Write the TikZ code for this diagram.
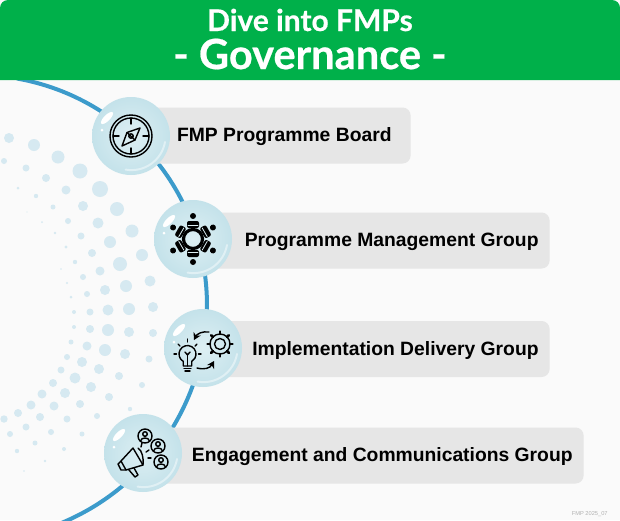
\documentclass[tikz,border=0pt]{standalone}
\usepackage{fontspec}
\setmainfont{Liberation Sans}
\newfontfamily\headfont[BoldFeatures={FakeBold=0.5}]{Lato}
\usetikzlibrary{arrows.meta}
\usetikzlibrary{shapes.geometric}
\definecolor{headgreen}{HTML}{00B04A}
\definecolor{pagegrey}{HTML}{FAFAFA}
\definecolor{bargrey}{HTML}{E6E6E6}
\definecolor{arcblue}{HTML}{3C9BCB}
\definecolor{dotblue}{HTML}{D6E9F1}
\definecolor{bubbleout}{HTML}{C4E2EA}
\definecolor{bubblein}{HTML}{DDEFF3}
\tikzset{
  halftone/.style={fill=dotblue,draw=none},
  barbox/.style={fill=bargrey,rounded corners=4pt,minimum height=28pt,anchor=east,align=flush right,font=\bfseries\fontsize{9.65}{11}\selectfont,text=black,execute at begin node=\rule{0pt}{8.5pt}},
  bubble/.style={circle,minimum size=39pt,inner sep=0pt,inner color=bubblein,outer color=bubbleout},
  gloss/.style={fill=white,draw=none},
  rim/.style={draw=white,draw opacity=.45,line width=1pt},
  iconline/.style={draw=black,line width=.7pt,fill=none},
  iconthick/.style={draw=black,line width=1.3pt},
  iconfill/.style={fill=black,draw=none}
}
\begin{document}
\begin{tikzpicture}[line cap=round,line join=round,x=0.5pt,y=-0.5pt]
\useasboundingbox (0,0) rectangle (620,520);
\clip (0,0) rectangle (620,520);
\fill [pagegrey] (0,0) rectangle (620,520);
% halftone
\draw [halftone] (9,138) circle (5);
\draw [halftone] (34,145) circle (6);
\draw [halftone] (58,157) circle (6.5);
\draw [halftone] (80,171) circle (7.5);
\draw [halftone] (100,189) circle (8);
\draw [halftone] (117,209) circle (7);
\draw [halftone] (132,231) circle (6.5);
\draw [halftone] (142,255) circle (6);
\draw [halftone] (4,161) circle (3);
\draw [halftone] (26,168) circle (3.5);
\draw [halftone] (46,178) circle (4);
\draw [halftone] (66,190) circle (4.5);
\draw [halftone] (83,206) circle (5);
\draw [halftone] (98,223) circle (5.5);
\draw [halftone] (110,242) circle (6);
\draw [halftone] (18,188) circle (1.5);
\draw [halftone] (36,196) circle (2.2);
\draw [halftone] (53,207) circle (2.5);
\draw [halftone] (68,221) circle (3);
\draw [halftone] (81,236) circle (3.5);
\draw [halftone] (92,253) circle (4);
\draw [halftone] (42,222) circle (1);
\draw [halftone] (55,233) circle (1.3);
\draw [halftone] (66,247) circle (1.7);
\draw [halftone] (27,212) circle (.7);
\draw [halftone] (120,264) circle (7);
\draw [halftone] (150,281) circle (5.5);
\draw [halftone] (126,286) circle (6);
\draw [halftone] (105,290) circle (5);
\draw [halftone] (100,271) circle (4.5);
\draw [halftone] (83,277) circle (3);
\draw [halftone] (75,262) circle (2.2);
\draw [halftone] (87,294) circle (3);
\draw [halftone] (67,283) circle (1.2);
\draw [halftone] (61,269) circle (.8);
\draw [halftone] (71,297) circle (1.5);
\draw [halftone] (153,307) circle (5);
\draw [halftone] (129,309) circle (6);
\draw [halftone] (108,310) circle (5.5);
\draw [halftone] (90,312) circle (3.5);
\draw [halftone] (74,312) circle (2);
\draw [halftone] (153,333) circle (4);
\draw [halftone] (129,332) circle (5);
\draw [halftone] (108,330) circle (6);
\draw [halftone] (90,329) circle (4);
\draw [halftone] (74,327) circle (2);
\draw [halftone] (149,359) circle (3.5);
\draw [halftone] (125,354) circle (5);
\draw [halftone] (105,350) circle (6);
\draw [halftone] (87,346) circle (4.5);
\draw [halftone] (71,342) circle (2.5);
\draw [halftone] (142,385) circle (3);
\draw [halftone] (119,376) circle (4);
\draw [halftone] (99,369) circle (5);
\draw [halftone] (82,362) circle (5);
\draw [halftone] (67,357) circle (3);
\draw [halftone] (130,409) circle (2.2);
\draw [halftone] (109,397) circle (4);
\draw [halftone] (91,387) circle (5);
\draw [halftone] (75,378) circle (5.5);
\draw [halftone] (61,370) circle (3.5);
\draw [halftone] (97,416) circle (3);
\draw [halftone] (80,404) circle (4);
\draw [halftone] (65,393) circle (5);
\draw [halftone] (53,383) circle (4);
\draw [halftone] (82,434) circle (2.5);
\draw [halftone] (67,419) circle (3.5);
\draw [halftone] (54,406) circle (4.5);
\draw [halftone] (42,394) circle (4.5);
\draw [halftone] (64,449) circle (2);
\draw [halftone] (51,432) circle (3);
\draw [halftone] (40,417) circle (4);
\draw [halftone] (31,405) circle (4.5);
\draw [halftone] (45,461) circle (1.3);
\draw [halftone] (35,443) circle (2.5);
\draw [halftone] (26,427) circle (3.5);
\draw [halftone] (18,413) circle (4);
\draw [halftone] (24,471) circle (.8);
\draw [halftone] (17,451) circle (2.2);
\draw [halftone] (10,434) circle (3);
\draw [halftone] (4,419) circle (3.7);
% arc
\coordinate (arcstart) at (16.9,78.5);
\draw [arcblue,line width=2pt,line cap=butt] (arcstart) arc (-80:0:230) arc (0:72:236);
% bars
\node [barbox,inner xsep=9.5pt,text width=111.5pt] (boardbar) at (411,135.5) {FMP Programme Board};
\node [barbox,inner xsep=5.5pt,text width=169pt] (managebar) at (550,240.5) {Programme Management Group};
\node [barbox,inner xsep=5.5pt,text width=169pt] (deliverybar) at (550,349) {Implementation Delivery Group};
\node [barbox,inner xsep=5.5pt,text width=211pt] (engagebar) at (584,455.5) {Engagement and Communications Group};
% bubbles
\node [bubble] (boardbubble) at (131,136) {};
\node [bubble] (managebubble) at (193,239) {};
\node [bubble] (deliverybubble) at (203,348) {};
\node [bubble] (engagebubble) at (143,453) {};
\begin{scope}[shift={(131,136)}]
\fill [gloss,shift={(-24,-18)},rotate=45] (0,0) ellipse (8 and 3);
\fill [gloss] (-29,-6) circle (1.5);
\draw [rim] (34,6) arc (10:100:34);
\draw [iconline] (0,0) circle (21);
\draw [iconline] (0,0) circle (18);
\draw [iconline] (0,-18) -- (0,-12);
\draw [iconline] (0,18) -- (0,12);
\draw [iconline] (-18,0) -- (-12,0);
\draw [iconline] (18,0) -- (12,0);
\draw [iconline] (9,-8) -- (-4,-3.5) -- (-9,10) -- (4,4) -- cycle;
\draw [iconline] (-4,-3.5) -- (4,4);
\draw [iconline] (0,0) circle (2.2);
\end{scope}
\begin{scope}[shift={(193,239)}]
\fill [gloss,shift={(-24,-18)},rotate=45] (0,0) ellipse (8 and 3);
\fill [gloss] (-29,-6) circle (1.5);
\draw [rim] (34,6) arc (10:100:34);
\draw [black,line width=1.6pt] (0,0) circle (9.5);
\fill [iconfill] (0,-23) circle (3);
\fill [iconfill,rounded corners=1pt] (-6,-18) rectangle (6,-11);
\fill [iconfill,rotate=60] (0,-23) circle (3);
\fill [iconfill,rotate=60,rounded corners=1pt] (-6,-18) rectangle (6,-11);
\fill [iconfill,rotate=120] (0,-23) circle (3);
\fill [iconfill,rotate=120,rounded corners=1pt] (-6,-18) rectangle (6,-11);
\fill [iconfill,rotate=180] (0,-23) circle (3);
\fill [iconfill,rotate=180,rounded corners=1pt] (-6,-18) rectangle (6,-11);
\fill [iconfill,rotate=240] (0,-23) circle (3);
\fill [iconfill,rotate=240,rounded corners=1pt] (-6,-18) rectangle (6,-11);
\fill [iconfill,rotate=300] (0,-23) circle (3);
\fill [iconfill,rotate=300,rounded corners=1pt] (-6,-18) rectangle (6,-11);
\draw [bubblein,line width=.4pt] (-5,-13.5) -- (5,-13.5);
\draw [bubblein,line width=.4pt,rotate=60] (-5,-13.5) -- (5,-13.5);
\draw [bubblein,line width=.4pt,rotate=120] (-5,-13.5) -- (5,-13.5);
\draw [bubblein,line width=.4pt,rotate=180] (-5,-13.5) -- (5,-13.5);
\draw [bubblein,line width=.4pt,rotate=240] (-5,-13.5) -- (5,-13.5);
\draw [bubblein,line width=.4pt,rotate=300] (-5,-13.5) -- (5,-13.5);
\end{scope}
\begin{scope}[shift={(203,348)}]
\fill [gloss,shift={(-24,-18)},rotate=45] (0,0) ellipse (8 and 3);
\fill [gloss] (-29,-6) circle (1.5);
\draw [rim] (34,6) arc (10:100:34);
% bulb
\draw [iconline] (-19.75,13.4) arc (120:420:8.5) -- (-11.25,18) -- (-19.75,18) -- cycle;
\draw [iconline] (-19,20.5) -- (-12,20.5);
\draw [iconline] (-18,23) -- (-13,23);
\draw [iconline] (-15.5,18) -- (-15.5,6);
\draw [iconline] (-18,4) -- (-15.5,7) -- (-13,4);
\draw [iconline] (-29,6) -- (-26.5,6);
\draw [iconline] (-25,-4) -- (-23,-2);
\draw [iconline] (-15.5,-9) -- (-15.5,-6);
\draw [iconline] (-6,-4) -- (-8,-2);
\draw [iconline] (-2,6) -- (-4.5,6);
% gear
\draw [iconline] (17,-4) circle (5.5);
\draw [iconline] (17,-4) circle (10);
\draw [iconthick] (17,-4) +(0:10) -- +(0:12.5);
\draw [iconthick] (17,-4) +(45:10) -- +(45:12.5);
\draw [iconthick] (17,-4) +(90:10) -- +(90:12.5);
\draw [iconthick] (17,-4) +(135:10) -- +(135:12.5);
\draw [iconthick] (17,-4) +(180:10) -- +(180:12.5);
\draw [iconthick] (17,-4) +(225:10) -- +(225:12.5);
\draw [iconthick] (17,-4) +(270:10) -- +(270:12.5);
\draw [iconthick] (17,-4) +(315:10) -- +(315:12.5);
% arrows
\draw [iconline,-{Stealth[length=3.5pt,width=4pt]}] (6,-16) .. controls (-1,-17) and (-6,-14) .. (-9,-8);
\draw [iconline,-{Stealth[length=3.5pt,width=4pt]}] (-6,20) .. controls (2,22) and (7,20) .. (11,13);
\end{scope}
\begin{scope}[shift={(143,453)}]
\fill [gloss,shift={(-24,-18)},rotate=45] (0,0) ellipse (8 and 3);
\fill [gloss] (-29,-6) circle (1.5);
\draw [rim] (34,6) arc (10:100:34);
% people
\draw [iconline] (2,-17) circle (7);
\draw [iconline] (2,-19) circle (2.3);
\draw [iconline] (-2.5,-12) .. controls (-2,-16) and (6,-16) .. (6.5,-12);
\draw [iconline] (15,-7) circle (7);
\draw [iconline] (15,-9) circle (2.3);
\draw [iconline] (10.5,-2) .. controls (11,-6) and (19,-6) .. (19.5,-2);
\draw [iconline] (18,9) circle (7);
\draw [iconline] (18,7) circle (2.3);
\draw [iconline] (13.5,14) .. controls (14,10) and (22,10) .. (22.5,14);
% megaphone
\draw [iconline] (-10,-5) -- (-22,8) -- (-17,17) -- (0,12) -- cycle;
\draw [iconline] (-22,8) -- (-25,11) -- (-22,17) -- (-17,17);
\draw [iconline] (-14,17) -- (-8,24) -- (-5,22) -- (-9,15);
\draw [iconline] (-5,-5) .. controls (-1,-3) and (1,6) .. (0,12);
\draw [iconline] (-2,-6) -- (-1,-10);
\draw [iconline] (3,-1) -- (6,-3);
\draw [iconline] (5,5) -- (8,5);
\end{scope}
% header
\fill [headgreen] (0,80) -- (0,8) arc (180:270:8) -- (612,0) arc (270:360:8) -- (620,80) -- cycle;
\node [text=white,font=\headfont\bfseries\fontsize{15}{17}\selectfont,inner sep=0pt] (headline) at (310,20) {Dive into FMPs};
\node [text=white,font=\headfont\bfseries\fontsize{20.8}{24}\selectfont,inner sep=0pt] (subhead) at (310,54) {- Governance -};
\node [text=gray!60,font=\fontsize{2.85}{4}\selectfont,anchor=east,inner sep=0pt] (stamp) at (608,514) {FMP 2025\_07};
\end{tikzpicture}
\end{document}
